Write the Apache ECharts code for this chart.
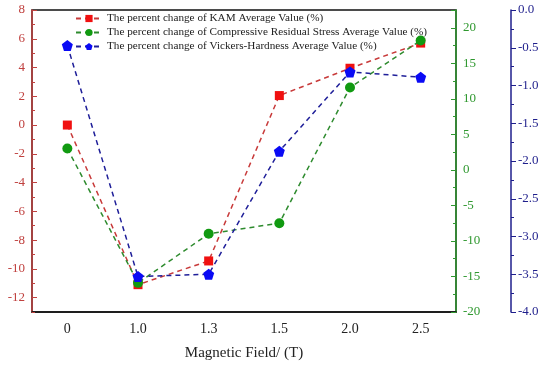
<!DOCTYPE html>
<html><head><meta charset="utf-8">
<script src="https://cdn.jsdelivr.net/npm/echarts@6/dist/echarts.min.js"></script>
<style>html,body{margin:0;padding:0;background:#fff}#c{width:550px;height:367px}</style>
</head><body><div id="c"></div>
<script>
const categories = ['0', '1.0', '1.3', '1.5', '2.0', '2.5'];
const kamValues = [0.0, -11.1, -9.45, 2.05, 3.95, 5.7];
const stressValues = [3.0, -15.9, -9.0, -7.5, 11.6, 18.2];
const hardnessValues = [-0.47, -3.53, -3.50, -1.87, -0.82, -0.89];
const leftTicks = [-12, -10, -8, -6, -4, -2, 0, 2, 4, 6, 8];
const leftMinorTicks = [-13, -11, -9, -7, -5, -3, -1, 1, 3, 5, 7];
const seriesNames = [
  'The percent change of KAM Average Value (%)',
  'The percent change of Compressive Residual Stress Average Value (%)',
  'The percent change of Vickers-Hardness Average Value (%)'
];
const FONT = '"Liberation Serif","Times New Roman",serif';
const RED = '#c0413f', GREEN = '#2f982f', BLUE = '#1f1f8c';
const pentagon = 'path://M0,-1 L0.951,-0.309 L0.588,0.809 L-0.588,0.809 L-0.951,-0.309 Z';

const chart = echarts.init(document.getElementById('c'), null, {renderer: 'canvas'});
chart.setOption({
  animation: false,
  grid: {left: 32, right: 94, top: 10, bottom: 55, show: true, borderColor: '#111', borderWidth: 1.5},
  legend: {
    orient: 'vertical', left: 70, top: 8, itemGap: 3, itemWidth: 26, itemHeight: 9,
    textStyle: {fontFamily: FONT, fontSize: 11.2, color: '#222'},
    data: seriesNames
  },
  xAxis: [{
    type: 'category', data: categories, boundaryGap: true, position: 'bottom',
    axisLine: {onZero: false, lineStyle: {color: '#111', width: 1.5}},
    axisTick: {alignWithLabel: true, inside: true, length: 5, lineStyle: {color: '#111'}},
    axisLabel: {fontFamily: FONT, fontSize: 14, color: '#222', margin: 10},
    name: 'Magnetic Field/ (T)', nameLocation: 'middle', nameGap: 34,
    nameTextStyle: {fontFamily: FONT, fontSize: 15, color: '#222'},
    splitLine: {show: false}
  }, {
    type: 'category', data: categories, boundaryGap: true, position: 'bottom',
    axisLine: {show: false, onZero: false},
    axisTick: {inside: true, length: 3, lineStyle: {color: '#111'}},
    axisLabel: {show: false}, splitLine: {show: false}
  }],
  yAxis: [{
    type: 'value', min: -13, max: 8, position: 'left',
    axisLine: {show: true, onZero: false, lineStyle: {color: RED, width: 1.5}},
    axisTick: {show: true, inside: true, length: 5, customValues: leftTicks, lineStyle: {color: RED}},
    axisLabel: {customValues: leftTicks, fontFamily: FONT, fontSize: 13, color: RED, margin: 7},
    splitLine: {show: false}
  }, {
    type: 'value', min: -20, max: 22.5, interval: 5, position: 'right', offset: 0,
    axisLine: {show: true, onZero: false, lineStyle: {color: GREEN, width: 1.5}},
    axisTick: {show: true, inside: true, length: 5, lineStyle: {color: GREEN}},
    minorTick: {show: true, splitNumber: 2, length: 3, lineStyle: {color: GREEN}},
    axisLabel: {fontFamily: FONT, fontSize: 13, color: GREEN, margin: 7, showMaxLabel: false},
    splitLine: {show: false}, minorSplitLine: {show: false}
  }, {
    type: 'value', min: -4, max: 0, interval: 0.5, position: 'right', offset: 55,
    axisLine: {show: true, onZero: false, lineStyle: {color: BLUE, width: 1.5}},
    axisTick: {show: true, inside: false, length: 5, lineStyle: {color: BLUE}},
    minorTick: {show: true, splitNumber: 2, length: 3, lineStyle: {color: BLUE}},
    axisLabel: {fontFamily: FONT, fontSize: 13, color: BLUE, margin: 7, formatter: v => v.toFixed(1)},
    splitLine: {show: false}, minorSplitLine: {show: false}
  }, {
    type: 'value', min: -13, max: 8, position: 'left',
    axisLine: {show: false, onZero: false},
    axisTick: {show: true, inside: true, length: 3, customValues: leftMinorTicks, lineStyle: {color: RED}},
    axisLabel: {show: false}, splitLine: {show: false}
  }],
  series: [{
    name: seriesNames[0], type: 'line', yAxisIndex: 0, data: kamValues,
    symbol: 'rect', symbolSize: 9,
    itemStyle: {color: '#f01010'},
    lineStyle: {color: '#c83a3a', width: 1.5, type: [5, 4]}, z: 3
  }, {
    name: seriesNames[1], type: 'line', yAxisIndex: 1, data: stressValues,
    symbol: 'circle', symbolSize: 10,
    itemStyle: {color: '#119a11'},
    lineStyle: {color: '#2e8b2e', width: 1.5, type: [5, 4]}, z: 4
  }, {
    name: seriesNames[2], type: 'line', yAxisIndex: 2, data: hardnessValues,
    symbol: pentagon, symbolSize: 11,
    itemStyle: {color: '#0a0af5'},
    lineStyle: {color: '#1f1f99', width: 1.5, type: [5, 4]}, z: 5
  }]
});
</script></body></html>
